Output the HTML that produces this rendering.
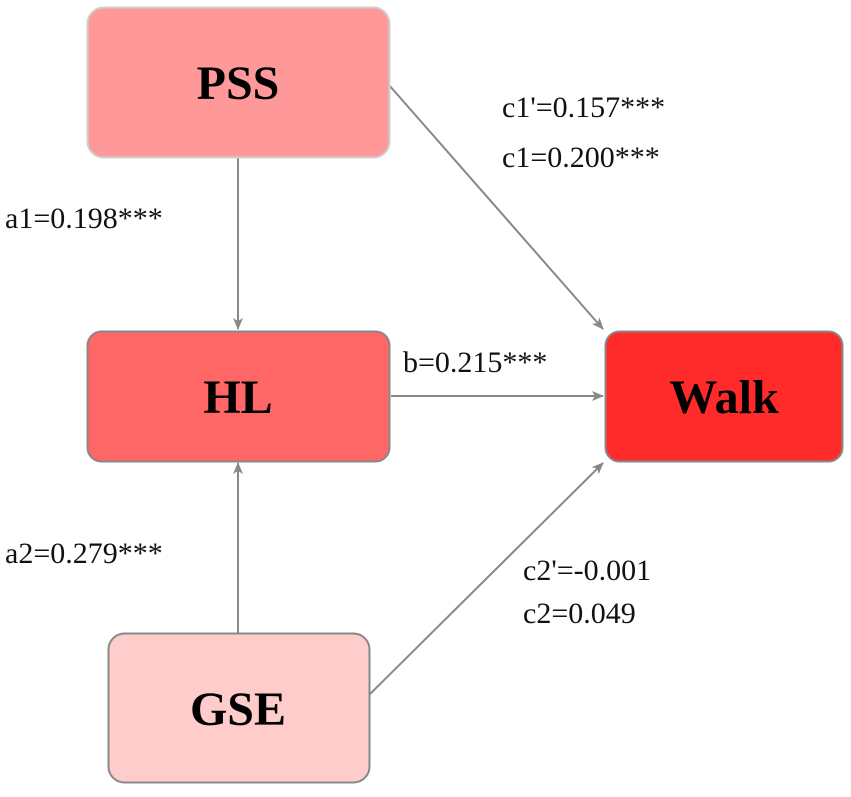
<!DOCTYPE html>
<html><head><style>body{margin:0;background:#fff}</style></head><body>
<svg width="851" height="792" xmlns="http://www.w3.org/2000/svg" font-family="Liberation Serif, serif">
<defs><marker id="a" markerWidth="12" markerHeight="10" refX="11" refY="5" orient="auto" markerUnits="userSpaceOnUse"><path d="M0,0 L12,5 L0,10 L3,5 z" fill="#888"/></marker></defs>
<g stroke="#888" stroke-width="2" fill="none">
<line x1="238" y1="158" x2="238" y2="329" marker-end="url(#a)"/>
<line x1="389" y1="85" x2="603" y2="329" marker-end="url(#a)"/>
<line x1="391" y1="396" x2="603" y2="396" marker-end="url(#a)"/>
<line x1="238" y1="633" x2="238" y2="463" marker-end="url(#a)"/>
<line x1="369" y1="695" x2="603" y2="463" marker-end="url(#a)"/>
</g>
<rect x="87.5" y="7.5" width="302" height="150" rx="16" fill="#ff9999" stroke="#cfcfcf" stroke-width="2"/>
<rect x="87.5" y="331.5" width="302" height="130" rx="14" fill="#ff6666" stroke="#888" stroke-width="2"/>
<rect x="605.5" y="331.5" width="237" height="130" rx="14" fill="#ff2a2a" stroke="#888" stroke-width="2"/>
<rect x="108.5" y="633.5" width="261" height="149" rx="16" fill="#ffcccc" stroke="#888" stroke-width="2"/>
<g font-weight="bold" font-size="48" text-anchor="middle" fill="#000">
<text x="238" y="99">PSS</text>
<text x="238" y="413">HL</text>
<text x="724" y="413">Walk</text>
<text x="238" y="725">GSE</text>
</g>
<g font-size="30" fill="#111">
<text x="5" y="228">a1=0.198***</text>
<text x="502" y="117">c1'=0.157***</text>
<text x="502" y="167">c1=0.200***</text>
<text x="403" y="372">b=0.215***</text>
<text x="5" y="563">a2=0.279***</text>
<text x="523" y="580">c2'=-0.001</text>
<text x="523" y="623">c2=0.049</text>
</g>
</svg>
</body></html>
